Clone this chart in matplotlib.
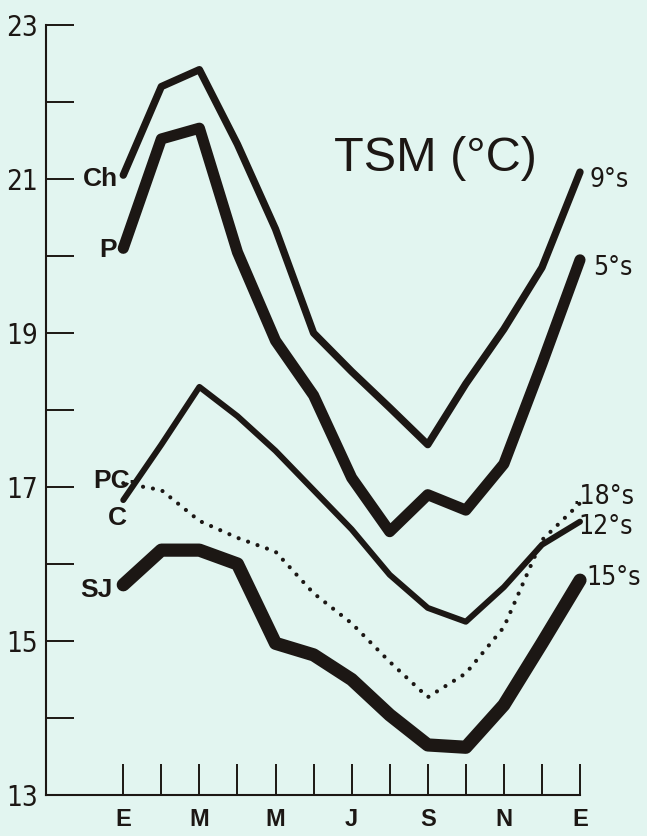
import matplotlib.pyplot as plt
import numpy as np

# sea surface temperature, monthly (Jan .. Jan)
months = np.arange(13)
month_labels = ["E", "", "M", "", "M", "", "J", "", "S", "", "N", "", "E"]
yticks = np.arange(13, 24)
ytick_labels = [str(v) if v % 2 == 1 else "" for v in yticks]

ch = [21.05, 22.2, 22.42, 21.45, 20.35, 19.0, 18.5, 18.03, 17.55, 18.34, 19.05, 19.85, 21.09]
p = [20.1, 21.52, 21.66, 20.05, 18.9, 18.19, 17.12, 16.42, 16.9, 16.7, 17.3, 18.6, 19.95]
c = [16.83, 17.55, 18.3, 17.92, 17.47, 16.96, 16.45, 15.86, 15.43, 15.25, 15.7, 16.25, 16.55]
pc = [17.05, 16.96, 16.56, 16.34, 16.16, 15.62, 15.23, 14.73, 14.27, 14.58, 15.18, 16.31, 16.79]
sj = [15.73, 16.18, 16.18, 16.0, 14.97, 14.82, 14.5, 14.04, 13.65, 13.62, 14.17, 14.97, 15.79]

bg = "#e2f5f0"
ink = "#1c1714"
narrow = ["DejaVu Sans Condensed"]
sans = ["Liberation Sans", "DejaVu Sans"]

fig = plt.figure(figsize=(6.47, 8.36), dpi=100, facecolor=bg)
ax = fig.add_axes([46 / 647, 41 / 836, 534 / 647, 770 / 836], facecolor=bg)
ax.set_xlim(-2.03, 12)
ax.set_ylim(13, 23)

kw = dict(color=ink, solid_capstyle="round", solid_joinstyle="round", clip_on=False)
ax.plot(months, ch, lw=5.3, **kw)
ax.plot(months, p, lw=8, **kw)
ax.plot(months, c, lw=4.3, **kw)
ax.plot(months, sj, lw=9.5, **kw)
ax.plot(months, pc, lw=3, color=ink, linestyle=(0, (0.01, 2.4)),
        dash_capstyle="round", clip_on=False)

# station names on the left
lab = dict(color=ink, fontsize=19, fontweight="bold", family=sans, va="center")
ax.text(-0.13, 21.0, "Ch", ha="right", **lab)
ax.text(-0.16, 20.08, "P", ha="right", **lab)
ax.text(0.4, 17.08, "PC-", ha="right", **lab)
ax.text(-0.16, 16.6, "C", ha="center", **lab)
ax.text(-0.28, 15.66, "SJ", ha="right", **lab)

# latitudes on the right
rl = dict(color=ink, fontsize=19, family=narrow, fontstretch="condensed",
          va="center", ha="left")
ax.text(12.24, 20.99, "9°s", **rl)
ax.text(12.34, 19.84, "5°s", **rl)
ax.text(11.8, 16.87, ".18°s", **rl)
ax.text(11.97, 16.48, "12°s", **rl)
ax.text(12.16, 15.82, "15°s", **rl)

ax.text(8.21, 21.27, "TSM (°C)", fontsize=35, family=sans, color=ink,
        ha="center", va="center")

for s in ["top", "right"]:
    ax.spines[s].set_visible(False)
for s in ["left", "bottom"]:
    ax.spines[s].set_color(ink)
    ax.spines[s].set_linewidth(1.5)

ax.set_xticks(months)
ax.set_xticklabels(month_labels, fontsize=17, fontweight="bold", family=sans, color=ink)
ax.set_yticks(yticks)
ax.set_yticklabels(ytick_labels, fontsize=20, family=narrow, fontstretch="condensed",
                   color=ink)
ax.tick_params(axis="x", direction="in", length=22, width=1.4, pad=9, color=ink)
ax.tick_params(axis="y", direction="in", length=20, width=1.4, pad=6, color=ink)

plt.savefig("out.png", dpi=100, facecolor=bg)
